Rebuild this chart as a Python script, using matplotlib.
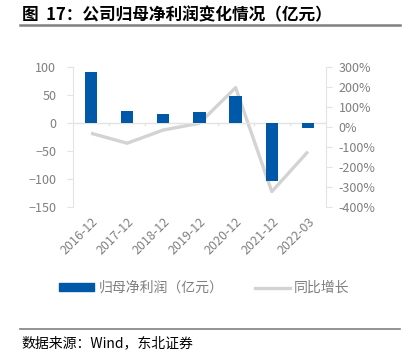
import numpy as np
import matplotlib.pyplot as plt
from matplotlib.lines import Line2D
from matplotlib.patches import Patch

plt.rcParams['font.family'] = ['Noto Sans CJK SC', 'DejaVu Sans']

# Data
periods = ['2016-12', '2017-12', '2018-12', '2019-12', '2020-12', '2021-12', '2022-03']
net_profit = [90, 20, 15.5, 18.5, 47.5, -104, -10]     # 亿元
yoy_growth = [-33, -83, -17, 17, 195, -325, -125]      # %

BAR_COLOR = '#0058A8'
LINE_COLOR = '#D3D3D3'
TEXT_COLOR = '#7F7F7F'
AXIS_COLOR = '#E3E3E3'

fig = plt.figure(figsize=(4.05, 3.6), dpi=100)
ax = fig.add_axes([0.180, 0.426, 0.625, 0.389])
ax2 = ax.twinx()

x = np.arange(len(periods))
ax.bar(x, net_profit, width=0.34, color=BAR_COLOR, zorder=3)
ax2.plot(x, yoy_growth, color=LINE_COLOR, linewidth=2.4, solid_capstyle='butt', zorder=2)

ax.set_xlim(-0.5, len(periods) - 0.5)
ax.set_ylim(-150, 100)
ax.set_yticks(np.arange(-150, 101, 50))
ax2.set_ylim(-400, 300)
ax2.set_yticks(np.arange(-400, 301, 100))
ax2.set_yticklabels([f'{v}%' for v in range(-400, 301, 100)])

# zero line with category-boundary ticks
ax.axhline(0, color=AXIS_COLOR, linewidth=1, zorder=1)
for b in np.arange(0.5, len(periods) - 0.5, 1):
    ax.plot([b, b], [0, -4], color=AXIS_COLOR, linewidth=1, zorder=1)

ax.set_xticks(x)
ax.set_xticklabels(periods, rotation=45, ha='right', rotation_mode='anchor')

for a in (ax, ax2):
    for s in ('top', 'bottom'):
        a.spines[s].set_visible(False)
    a.spines['left'].set_color(AXIS_COLOR)
    a.spines['right'].set_color(AXIS_COLOR)
    a.tick_params(colors=AXIS_COLOR, labelcolor=TEXT_COLOR, labelsize=9, length=4)
ax.spines['right'].set_visible(False)
ax2.spines['left'].set_visible(False)
ax.tick_params(axis='x', length=0, pad=6)
ax.tick_params(axis='y', pad=8)
ax2.tick_params(axis='y', pad=5)
ax.set_zorder(ax2.get_zorder() + 1)
ax.patch.set_visible(False)

handles = [Patch(color=BAR_COLOR), Line2D([], [], color=LINE_COLOR, linewidth=2.4)]
fig.legend(handles, ['归母净利润（亿元）', '同比增长'], loc='center', bbox_to_anchor=(0.505, 0.2),
           ncol=2, frameon=False, fontsize=10, labelcolor=TEXT_COLOR,
           handlelength=2.5, handleheight=0.5, columnspacing=2.3, handletextpad=0.3)

# title and footer
fig.text(0.054, 0.958, '图  17：公司归母净利润变化情况（亿元）', fontsize=12, fontweight='bold',
         color='black', va='center')
fig.add_artist(Line2D([0.05, 0.988], [0.930, 0.930], color='#808080', linewidth=1.8))
fig.add_artist(Line2D([0.05, 0.988], [0.085, 0.085], color='#808080', linewidth=1.2))
fig.text(0.054, 0.047, '数据来源：Wind，东北证券', fontsize=10, color='black', va='center')

plt.savefig('out.png', dpi=100)
